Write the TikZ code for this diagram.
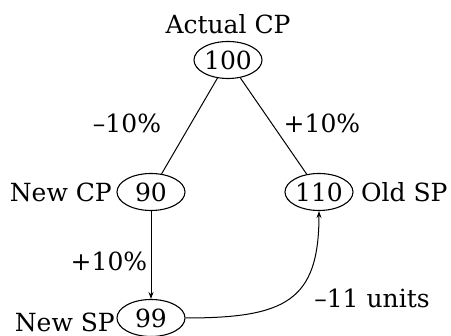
\documentclass[tikz,border=0pt]{standalone}
\usepackage{fontspec}
\setmainfont{DejaVu Serif}
\usetikzlibrary{arrows.meta,shapes.geometric}
\begin{document}
\begin{tikzpicture}[x=1pt,y=-1pt,
  val/.style={draw,ellipse,line width=1.1pt,minimum width=68pt,minimum height=37pt,inner sep=0pt,font=\fontsize{25}{28}\selectfont},
  lab/.style={inner sep=0pt,font=\fontsize{25}{28}\selectfont},
  edge/.style={line width=1pt},
  tip/.style={-{Stealth[length=7pt,width=5pt]}}]
\useasboundingbox (0,0) rectangle (451,336);
\node[lab] (t) at (228,24) {Actual CP};
\node[val] (a) at (228,60) {100};
\node[val] (b) at (151,192) {90};
\node[val] (c) at (319,192) {110};
\node[val] (d) at (151,318) {99};
\node[lab,anchor=east] (lb) at (112,192) {New CP};
\node[lab,anchor=west] (lc) at (361,192) {Old SP};
\node[lab,anchor=east] (ld) at (115,322) {New SP};
\node[lab] (m1) at (127,123) {–10\%};
\node[lab] (p1) at (322,123) {+10\%};
\node[lab] (p2) at (109,261) {+10\%};
\node[lab] (u) at (372,298) {–11 units};
\draw[edge] (a) -- (b);
\draw[edge] (a) -- (c);
\draw[edge,tip] (b) -- (d);
\draw[edge,tip] (d.east) .. controls +(100,0) and +(0,90) .. (c.south);
\end{tikzpicture}
\end{document}
